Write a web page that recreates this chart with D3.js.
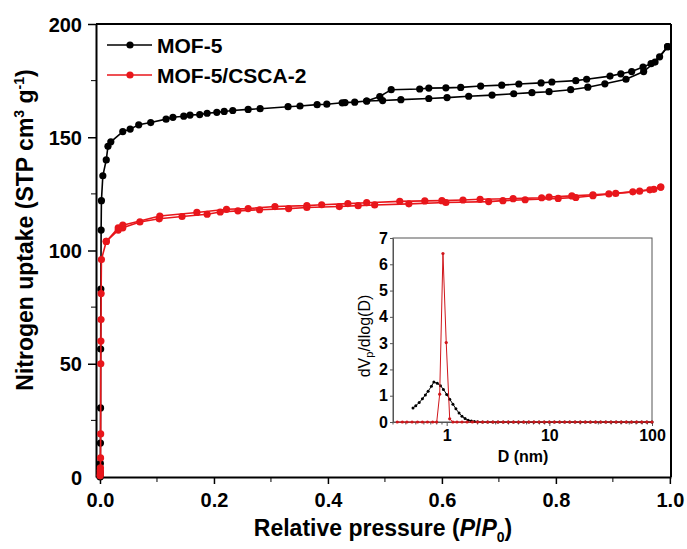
<!DOCTYPE html>
<html>
<head>
<meta charset="utf-8">
<script src="https://cdn.jsdelivr.net/npm/d3@7"></script>
<style>
  body { margin: 0; background: #fff; }
  svg text { font-family: "Liberation Sans", Arial, sans-serif; }
</style>
</head>
<body>
<div id="chart"></div>
<script>
// Isotherms: relative pressure P/P0 and uptake (cm3/g STP)
const mofAdsP = [0.0003, 0.0004, 0.0005, 0.0006, 0.0008, 0.001, 0.0012, 0.0015, 0.002, 0.0025, 0.005, 0.011, 0.014, 0.019, 0.04, 0.053, 0.068, 0.089, 0.116, 0.128, 0.147, 0.158, 0.175, 0.188, 0.205, 0.218, 0.233, 0.26, 0.281, 0.33, 0.351, 0.381, 0.398, 0.425, 0.43, 0.447, 0.468, 0.496, 0.528, 0.577, 0.609, 0.647, 0.688, 0.726, 0.758, 0.788, 0.826, 0.856, 0.886, 0.923, 0.954, 0.974, 0.996];
const mofAdsV = [0, 0.5, 2, 6, 15, 30.5, 56.5, 83, 109, 122, 133, 140, 146, 148, 152.5, 153.6, 155.5, 156.5, 158, 158.8, 159.3, 159.8, 160, 160.6, 161, 161.4, 161.8, 162.3, 162.6, 163.5, 163.8, 164.4, 164.6, 165.2, 165.3, 165.5, 166, 166.2, 166.6, 167.1, 167.5, 168.1, 168.6, 169.2, 169.7, 170.1, 171, 172.1, 173.6, 175.6, 179, 183.2, 190];
const mofDesP = [0.996, 0.982, 0.967, 0.953, 0.933, 0.914, 0.895, 0.854, 0.835, 0.793, 0.774, 0.735, 0.705, 0.668, 0.633, 0.607, 0.577, 0.561, 0.511, 0.491, 0.468];
const mofDesV = [190, 185.5, 182.5, 181, 179, 178, 177, 175.6, 175, 174.4, 174, 173.5, 173, 172.6, 172, 171.8, 171.7, 171.3, 171, 168, 166];

const cscaAdsP = [0.0003, 0.0004, 0.0005, 0.0006, 0.0008, 0.001, 0.0012, 0.0014, 0.0016, 0.0018, 0.002, 0.0025, 0.011, 0.032, 0.04, 0.07, 0.104, 0.144, 0.188, 0.211, 0.242, 0.28, 0.331, 0.363, 0.42, 0.453, 0.482, 0.542, 0.607, 0.682, 0.707, 0.746, 0.804, 0.835, 0.865, 0.905, 0.947, 0.972, 0.984];
const cscaAdsV = [0.5, 1, 2, 3, 4, 8.4, 19, 50, 60, 69.5, 81, 96, 104, 109, 110, 112.6, 114, 115, 116, 117, 117.5, 118, 118.5, 119, 119.4, 119.8, 120.1, 120.6, 121.2, 121.6, 122, 122.4, 123, 123.4, 124.2, 125.2, 126.2, 127, 128];
const cscaDesP = [0.984, 0.965, 0.935, 0.893, 0.865, 0.828, 0.788, 0.775, 0.725, 0.667, 0.637, 0.6, 0.57, 0.526, 0.468, 0.435, 0.389, 0.363, 0.307, 0.26, 0.222, 0.17, 0.105, 0.04, 0.032, 0.011];
const cscaDesV = [128, 126.8, 125.9, 125, 124.6, 124.1, 123.6, 123.3, 122.9, 122.6, 122.3, 122, 121.9, 121.7, 121.1, 120.7, 120.2, 119.8, 119.4, 118.5, 118.2, 116.8, 115.2, 111.2, 110, 104];

// Inset: pore size distribution, D (nm) and dVp/dlog(D)
const psdMofD = [0.47, 0.50, 0.54, 0.58, 0.62, 0.66, 0.71, 0.75, 0.81, 0.87, 0.93, 1.0, 1.07, 1.15, 1.23, 1.32, 1.41, 1.51, 1.62, 1.74, 1.86, 2.0, 2.24, 2.51, 2.82, 3.16, 3.55, 3.98, 4.47, 5.01, 5.62, 6.31, 7.08, 7.94, 8.91, 10, 11.2, 12.6, 14.1, 15.8, 17.8, 20, 22.4, 25.1, 28.2, 31.6, 35.5, 39.8, 44.7, 50.1, 56.2, 63.1, 70.8, 79.4, 89.1, 100];
const psdMofV = [0.53, 0.62, 0.74, 0.88, 1.03, 1.17, 1.36, 1.52, 1.47, 1.38, 1.24, 1.05, 0.87, 0.68, 0.5, 0.34, 0.22, 0.13, 0.07, 0.035, 0.015, 0.005, 0, 0, 0, 0, 0, 0, 0, 0, 0, 0, 0, 0, 0, 0, 0, 0, 0, 0, 0, 0, 0, 0, 0, 0, 0, 0, 0, 0, 0, 0, 0, 0, 0, 0];
const psdCscaD = [0.33, 0.37, 0.41, 0.46, 0.52, 0.58, 0.65, 0.73, 0.80, 0.855, 0.92, 0.99, 1.07, 1.15, 1.26, 1.41, 1.58, 1.78, 2.0, 2.24, 2.51, 2.82, 3.16, 3.55, 3.98, 4.47, 5.01, 5.62, 6.31, 7.08, 7.94, 8.91, 10, 11.2, 12.6, 14.1, 15.8, 17.8, 20, 22.4, 25.1, 28.2, 31.6, 35.5, 39.8, 44.7, 50.1, 56.2, 63.1, 70.8, 79.4, 89.1, 100];
const psdCscaV = [0, 0, 0, 0, 0, 0, 0, 0, 0, 1.06, 6.41, 3.02, 0.12, 0, 0, 0, 0, 0, 0, 0, 0, 0, 0, 0, 0, 0, 0, 0, 0, 0, 0, 0, 0, 0, 0, 0, 0, 0, 0, 0, 0, 0, 0, 0, 0, 0, 0, 0, 0, 0, 0, 0, 0];

const xTicks = [0, 0.2, 0.4, 0.6, 0.8, 1.0];
const xMinor = [0.1, 0.3, 0.5, 0.7, 0.9];
const yTicks = [0, 50, 100, 150, 200];
const yMinor = [25, 75, 125, 175];
const insetYTicks = [0, 1, 2, 3, 4, 5, 6, 7];
const insetXTicks = [1, 10, 100];
const insetXMinor = [0.3, 0.4, 0.5, 0.6, 0.7, 0.8, 0.9, 2, 3, 4, 5, 6, 7, 8, 9, 20, 30, 40, 50, 60, 70, 80, 90];

const series = [
    { name: "MOF-5", color: "#000000", branches: [[mofAdsP, mofAdsV], [mofDesP, mofDesV]] },
    { name: "MOF-5/CSCA-2", color: "#e8161b", branches: [[cscaAdsP, cscaAdsV], [cscaDesP, cscaDesV]] }
];

const width = 687;
const height = 549;

const svg = d3.select("#chart")
    .append("svg")
    .attr("width", width)
    .attr("height", height);

// Main scales
const x = d3.scaleLinear().domain([-0.007, 1.002]).range([96, 671]);
const y = d3.scaleLinear().domain([0, 200]).range([477, 24]);

// Frame top / right
svg.append("line")
    .attr("x1", x.range()[0]).attr("x2", x.range()[1])
    .attr("y1", y(200)).attr("y2", y(200))
    .attr("stroke", "#000").attr("stroke-width", 2);
svg.append("line")
    .attr("x1", x.range()[1]).attr("x2", x.range()[1])
    .attr("y1", y(200)).attr("y2", y(0))
    .attr("stroke", "#000").attr("stroke-width", 2);

// Y axis
const yAxis = svg.append("g")
    .attr("transform", `translate(${x.range()[0]},0)`)
    .call(d3.axisLeft(y).tickValues(yTicks).tickSize(8).tickSizeOuter(0).tickPadding(6));
yAxis.selectAll(".tick").filter(d => d === 0).select("line").remove();
yAxis.selectAll(".tick").filter(d => d === 200).select("line").attr("x2", -8);
yAxis.append("g").selectAll("line")
    .data(yMinor)
    .enter()
    .append("line")
    .attr("x1", -5).attr("x2", 0)
    .attr("y1", d => y(d)).attr("y2", d => y(d))
    .attr("stroke", "#000");

// X axis
const xAxis = svg.append("g")
    .attr("transform", `translate(0,${y(0)})`)
    .call(d3.axisBottom(x).tickValues(xTicks).tickSize(7).tickSizeOuter(0).tickPadding(9).tickFormat(d3.format(".1f")));
xAxis.append("g").selectAll("line")
    .data(xMinor)
    .enter()
    .append("line")
    .attr("x1", d => x(d)).attr("x2", d => x(d))
    .attr("y1", 0).attr("y2", 5)
    .attr("stroke", "#000");

[yAxis, xAxis].forEach(a => {
    a.select(".domain").attr("stroke-width", 2);
    a.selectAll(".tick line").attr("stroke-width", 1.5);
    a.selectAll(".tick text")
        .attr("font-size", "20px")
        .attr("font-weight", "bold")
        .attr("fill", "#000")
        .style("font-family", "'Liberation Sans', Arial, sans-serif");
});
yAxis.selectAll(".tick text").attr("dy", "0.36em");

// Isotherm curves
const line = d3.line().x(d => x(d[0])).y(d => y(d[1]));

series.forEach(s => {
    const g = svg.append("g");
    s.branches.forEach(([ps, vs]) => {
        const pts = ps.map((p, i) => [p, vs[i]]);
        g.append("path")
            .datum(pts)
            .attr("d", line)
            .attr("fill", "none")
            .attr("stroke", s.color)
            .attr("stroke-width", 1.6);
        g.selectAll(null)
            .data(pts)
            .enter()
            .append("circle")
            .attr("cx", d => x(d[0]))
            .attr("cy", d => y(d[1]))
            .attr("r", 3.6)
            .attr("fill", s.color);
    });
});

// Legend
series.forEach((s, i) => {
    const ly = 45 + i * 30;
    svg.append("line")
        .attr("x1", 107).attr("x2", 152)
        .attr("y1", ly).attr("y2", ly)
        .attr("stroke", s.color).attr("stroke-width", 1.6);
    svg.append("circle")
        .attr("cx", 130).attr("cy", ly).attr("r", 3.6)
        .attr("fill", s.color);
    svg.append("text")
        .attr("x", 157).attr("y", ly + 8)
        .attr("font-size", "21px")
        .attr("font-weight", "bold")
        .text(s.name);
});

// Axis titles
const yTitle = svg.append("text")
    .attr("transform", "translate(33,230) rotate(-90)")
    .attr("text-anchor", "middle")
    .attr("font-size", "23px")
    .attr("font-weight", "bold");
yTitle.append("tspan").text("Nitrogen uptake (STP cm");
yTitle.append("tspan").attr("font-size", "14px").attr("dy", "-9").text("3");
yTitle.append("tspan").attr("dy", "9").text(" g");
yTitle.append("tspan").attr("font-size", "14px").attr("dy", "-9").text("-1");
yTitle.append("tspan").attr("dy", "9").text(")");

const xTitle = svg.append("text")
    .attr("x", 383).attr("y", 536)
    .attr("text-anchor", "middle")
    .attr("font-size", "23px")
    .attr("font-weight", "bold");
xTitle.append("tspan").text("Relative pressure (");
xTitle.append("tspan").attr("font-style", "italic").text("P");
xTitle.append("tspan").text("/");
xTitle.append("tspan").attr("font-style", "italic").text("P");
xTitle.append("tspan").attr("font-size", "14px").attr("dy", "6").text("0");
xTitle.append("tspan").attr("dy", "-6").text(")");

// Inset: pore size distribution
const ix = d3.scaleLog().domain([0.3, 100]).range([393, 652]);
const iy = d3.scaleLinear().domain([0, 7]).range([422, 238]);

const inset = svg.append("g");
inset.append("rect")
    .attr("x", ix.range()[0]).attr("y", iy(7))
    .attr("width", ix.range()[1] - ix.range()[0])
    .attr("height", iy(0) - iy(7))
    .attr("fill", "#fff")
    .attr("stroke", "#555")
    .attr("stroke-width", 1);

const iyAxis = inset.append("g")
    .attr("transform", `translate(${ix.range()[0]},0)`)
    .call(d3.axisLeft(iy).tickValues(insetYTicks).tickSize(3).tickSizeOuter(0).tickPadding(2).tickFormat(d3.format("d")));
const ixAxis = inset.append("g")
    .attr("transform", `translate(0,${iy(0)})`)
    .call(d3.axisBottom(ix).tickValues(insetXTicks).tickSize(4).tickSizeOuter(0).tickPadding(4).tickFormat(d3.format("d")));
ixAxis.append("g").selectAll("line")
    .data(insetXMinor)
    .enter()
    .append("line")
    .attr("x1", d => ix(d)).attr("x2", d => ix(d))
    .attr("y1", 0).attr("y2", 2.5)
    .attr("stroke", "#555");
[iyAxis, ixAxis].forEach(a => {
    a.select(".domain").attr("stroke", "#555");
    a.selectAll(".tick line").attr("stroke", "#555");
    a.selectAll(".tick text")
        .attr("font-size", "16px")
        .attr("font-weight", "bold")
        .attr("fill", "#000")
        .style("font-family", "'Liberation Sans', Arial, sans-serif");
});

const iline = d3.line().x(d => ix(d[0])).y(d => iy(d[1]));
[
    { D: psdMofD, V: psdMofV, color: "#000000", r: 1.5 },
    { D: psdCscaD, V: psdCscaV, color: "#d0161b", r: 1.6 }
].forEach(s => {
    const pts = s.D.map((d, i) => [d, s.V[i]]);
    inset.append("path")
        .datum(pts)
        .attr("d", iline)
        .attr("fill", "none")
        .attr("stroke", s.color)
        .attr("stroke-width", 1);
    inset.selectAll(null)
        .data(pts)
        .enter()
        .append("circle")
        .attr("cx", d => ix(d[0]))
        .attr("cy", d => iy(d[1]))
        .attr("r", s.r)
        .attr("fill", s.color);
});

const iyTitle = inset.append("text")
    .attr("transform", "translate(370,336) rotate(-90)")
    .attr("text-anchor", "middle")
    .attr("font-size", "16px");
iyTitle.append("tspan").text("dV");
iyTitle.append("tspan").attr("font-size", "11px").attr("dy", "3").text("p");
iyTitle.append("tspan").attr("dy", "-3").text("/dlog(D)");

inset.append("text")
    .attr("x", 523).attr("y", 462)
    .attr("text-anchor", "middle")
    .attr("font-size", "16px")
    .attr("font-weight", "bold")
    .text("D (nm)");
</script>
</body>
</html>
